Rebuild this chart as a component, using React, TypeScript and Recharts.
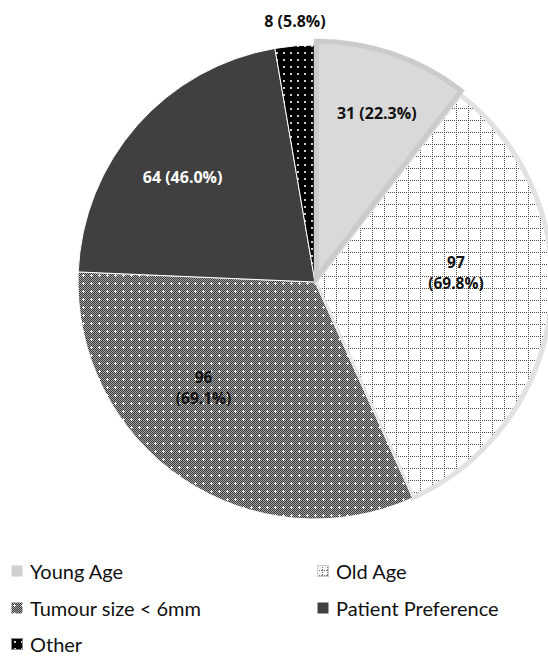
import { PieChart, Pie, Cell } from 'recharts'

const categories = ['Young Age', 'Old Age', 'Tumour size < 6mm', 'Patient Preference', 'Other']
const counts = [31, 97, 96, 64, 8]
// percentages are of patients, not of reasons given
const TOTAL_PATIENTS = 139

const data = categories.map((name, i) => ({ name, value: counts[i] }))

const CX = 310
const CY = 277
const R = 237
const RAD = Math.PI / 180

const fills = ['#d9d9d9', 'url(#pOld)', 'url(#pTumour)', '#404040', 'url(#pOther)']
const swatchFills = ['#d0d0d0', 'url(#pOldSmall)', 'url(#pTumour)', '#404040', 'url(#pOther)']
const strokes = ['#cbcbcb', '#e2e2e2', '#ffffff', '#ffffff', '#ffffff']
const strokeWidths = [5, 5, 1, 1, 1]
const labelColors = ['#111', '#111', '#111', '#fff', '#111']
const wrapped = [false, true, true, false, false]
// radius + angular nudge (degrees, clockwise) for each data label
const labelPlace = [
  { r: 177, da: 3.3 },
  { r: 146, da: -8.7 },
  { r: 153, da: 10 },
  { r: 162, da: -3.2 },
  { r: 256, da: 1.5 },
]

// the first slice is pulled out a little along its bisector
const total = counts.reduce((a, b) => a + b, 0)
const youngMid = (counts[0] / total) * 180
const EXPLODE = 4
const youngCx = CX + EXPLODE * Math.sin(youngMid * RAD)
const youngCy = CY - EXPLODE * Math.cos(youngMid * RAD)

const pct = (v: number) => ((v / TOTAL_PATIENTS) * 100).toFixed(1) + '%'

function SliceLabel(props: any) {
  const { index, midAngle, value } = props
  const place = labelPlace[index]
  const a = 90 - midAngle + place.da
  const x = CX + place.r * Math.sin(a * RAD)
  const y = CY - place.r * Math.cos(a * RAD)
  const common = {
    fill: labelColors[index],
    textAnchor: 'middle' as const,
    fontFamily: 'Open Sans',
    fontWeight: 700,
  }
  if (wrapped[index]) {
    return (
      <g>
        <text x={x} y={y - 4} fontSize={15.5} {...common}>{value}</text>
        <text x={x} y={y + 17} fontSize={15.5} {...common}>({pct(value)})</text>
      </g>
    )
  }
  return (
    <text x={x} y={y} dy={6} fontSize={16} {...common}>
      {`${value} (${pct(value)})`}
    </text>
  )
}

function Patterns() {
  return (
    <svg width={0} height={0} style={{ position: 'absolute' }}>
      <defs>
        <pattern id="pOld" width={12} height={12} patternUnits="userSpaceOnUse">
          <rect width={12} height={12} fill="#fff" />
          <path d="M0 0.5H12" stroke="#4a4a4a" strokeWidth={1} strokeDasharray="1 1" />
          <path d="M0.5 0V12" stroke="#4a4a4a" strokeWidth={1} strokeDasharray="1 1" />
        </pattern>
        <pattern id="pOldSmall" width={5} height={5} patternUnits="userSpaceOnUse">
          <rect width={5} height={5} fill="#f4f4f4" />
          <path d="M0 0.5H5" stroke="#777" strokeWidth={1} strokeDasharray="1 1" />
          <path d="M0.5 0V5" stroke="#777" strokeWidth={1} strokeDasharray="1 1" />
        </pattern>
        <pattern id="pChecker" width={2} height={2} patternUnits="userSpaceOnUse">
          <rect width={2} height={2} fill="#a4a4a4" />
          <rect width={1} height={1} fill="#3c3c3c" />
          <rect x={1} y={1} width={1} height={1} fill="#3c3c3c" />
        </pattern>
        <pattern id="pTumour" width={8} height={8} patternUnits="userSpaceOnUse">
          <rect width={8} height={8} fill="url(#pChecker)" />
          <rect x={3} y={2} width={1} height={3} fill="#fff" />
          <rect x={2} y={3} width={3} height={1} fill="#fff" />
        </pattern>
        <pattern id="pOther" width={7} height={7} patternUnits="userSpaceOnUse">
          <rect width={7} height={7} fill="#000" />
          <rect x={3} y={3} width={2} height={2} fill="#cfcfcf" />
        </pattern>
      </defs>
    </svg>
  )
}

const legendSpots = [
  { left: 11, top: 571 },
  { left: 317, top: 571 },
  { left: 11, top: 608 },
  { left: 317, top: 608 },
  { left: 11, top: 644 },
]
const swatchStroke = ['none', '#ccc', 'none', 'none', '#888']

function Legend() {
  return (
    <>
      {categories.map((name, i) => (
        <div
          key={name}
          style={{
            position: 'absolute',
            left: legendSpots[i].left,
            top: legendSpots[i].top - 12,
            height: 24,
            display: 'flex',
            alignItems: 'center',
            fontFamily: 'Lato',
            fontSize: 20,
            color: '#111',
            whiteSpace: 'nowrap',
          }}
        >
          <svg width={12} height={12} style={{ marginRight: 7 }}>
            <rect x={0.5} y={0.5} width={11} height={11} fill={swatchFills[i]} stroke={swatchStroke[i]} />
          </svg>
          <span>{name}</span>
        </div>
      ))}
    </>
  )
}

export default function App() {
  return (
    <div style={{ position: 'absolute', left: 0, top: 0, width: 548, height: 657, background: '#fff', overflow: 'hidden' }}>
      <Patterns />
      <div style={{ position: 'absolute', left: 0, top: 0 }}>
        <PieChart width={548} height={540}>
          <Pie
            data={data}
            dataKey="value"
            nameKey="name"
            cx={CX}
            cy={CY}
            outerRadius={R}
            startAngle={90}
            endAngle={-270}
            labelLine={false}
            isAnimationActive={false}
          >
            {data.map((d, i) => (
              <Cell
                key={d.name}
                fill={i === 0 ? 'none' : fills[i]}
                stroke={i === 0 ? 'none' : strokes[i]}
                strokeWidth={strokeWidths[i]}
              />
            ))}
          </Pie>
          <Pie
            data={data}
            dataKey="value"
            nameKey="name"
            cx={youngCx}
            cy={youngCy}
            outerRadius={R}
            startAngle={90}
            endAngle={-270}
            label={SliceLabel}
            labelLine={false}
            isAnimationActive={false}
          >
            {data.map((d, i) => (
              <Cell
                key={d.name}
                fill={i === 0 ? fills[0] : 'none'}
                stroke={i === 0 ? strokes[0] : 'none'}
                strokeWidth={strokeWidths[i]}
              />
            ))}
          </Pie>
        </PieChart>
      </div>
      <Legend />
    </div>
  )
}
